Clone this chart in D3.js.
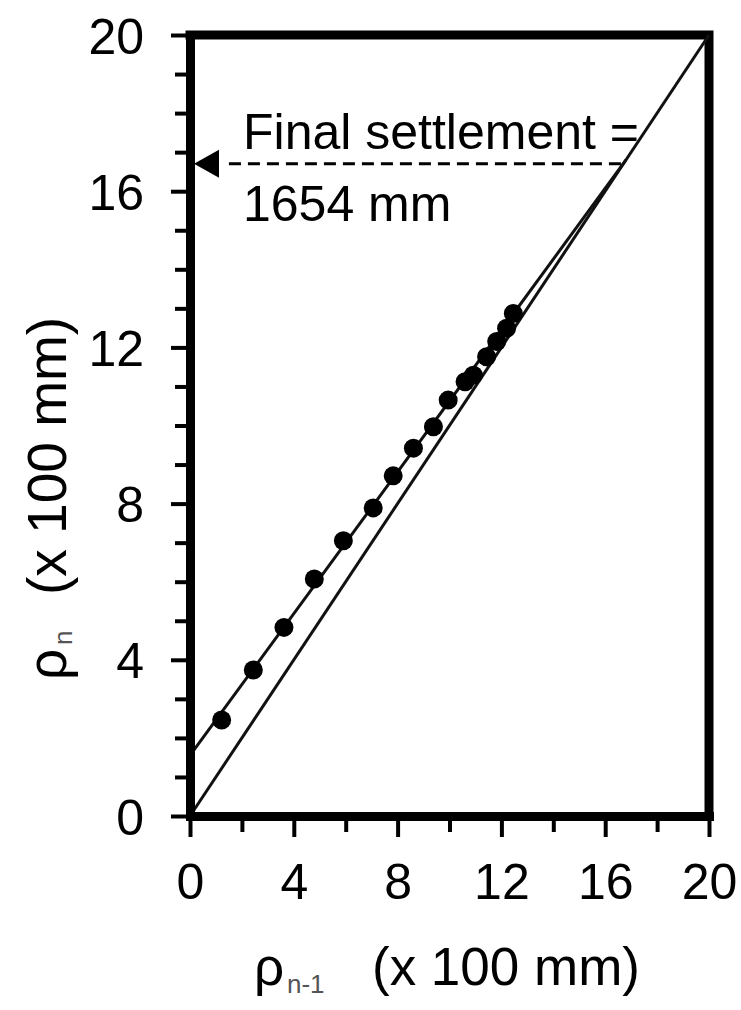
<!DOCTYPE html>
<html>
<head>
<meta charset="utf-8">
<script src="https://cdn.jsdelivr.net/npm/d3@7"></script>
<style>
  html, body { margin: 0; padding: 0; background: #fff; }
  svg { display: block; font-family: "Liberation Sans", Arial, sans-serif; }
</style>
</head>
<body>
<div id="chart"></div>
<script>
// settlement of step n-1 vs step n (x 100 mm)
const prevSettlement = [1.22, 2.44, 3.62, 4.79, 5.91, 7.06, 7.83, 8.61, 9.38, 9.95, 10.60, 10.92, 11.43, 11.82, 12.20, 12.46];
const currSettlement = [2.46, 3.74, 4.83, 6.07, 7.05, 7.89, 8.71, 9.42, 9.97, 10.65, 11.12, 11.29, 11.76, 12.15, 12.49, 12.87];

// fitted line and the 1:1 line
const fitLineX = [0, 16.8];
const fitLineY = [1.55, 16.8];
const equalityLineX = [0, 20];
const equalityLineY = [0, 20];

// asymptote / final settlement marker
const finalSettlementLevel = 16.7;
const finalSettlementStartX = 1.5;
const finalSettlementLabel = ["Final settlement =", "1654 mm"];

// ticks
const xTicks = [0, 4, 8, 12, 16, 20];
const xMinorTicks = [2, 6, 10, 14, 18];
const yTicks = [0, 4, 8, 12, 16, 20];
const yMinorTicks = [1, 2, 3, 5, 6, 7, 9, 10, 11, 13, 14, 15, 17, 18, 19];

const width = 741;
const height = 1010;
const margin = { left: 190, right: 32, top: 35, bottom: 194 };
const contentsWidth = width - margin.left - margin.right;
const contentsHeight = height - margin.top - margin.bottom;

const AXIS_WIDTH = 9;
const LABEL_SIZE = 50;
const TITLE_SIZE = 53;

const svg = d3.select("#chart").append("svg")
    .attr("width", width)
    .attr("height", height);

const x = d3.scaleLinear().domain([0, 20]).range([0, contentsWidth]);
const y = d3.scaleLinear().domain([0, 20]).range([contentsHeight, 0]);

const contentsG = svg.append("g")
    .attr("class", "chart-contents")
    .attr("transform", `translate(${margin.left}, ${margin.top})`);

//top + right border
contentsG.append("path")
    .attr("class", "frame")
    .attr("d", `M${x(0)},${y(20)}H${x(20)}V${y(0)}`)
    .attr("fill", "none")
    .attr("stroke", "#000")
    .attr("stroke-width", AXIS_WIDTH)
    .attr("stroke-linecap", "square");

//lines
const lineGen = d3.line().x(d => x(d[0])).y(d => y(d[1]));

contentsG.append("path")
    .attr("class", "equality-line")
    .datum(d3.zip(equalityLineX, equalityLineY))
    .attr("d", lineGen)
    .attr("fill", "none")
    .attr("stroke", "#111")
    .attr("stroke-width", 3);

contentsG.append("path")
    .attr("class", "fit-line")
    .datum(d3.zip(fitLineX, fitLineY))
    .attr("d", lineGen)
    .attr("fill", "none")
    .attr("stroke", "#111")
    .attr("stroke-width", 3);

//points
contentsG.selectAll("circle.point")
    .data(d3.zip(prevSettlement, currSettlement))
    .enter()
    .append("circle")
        .attr("class", "point")
        .attr("cx", d => x(d[0]))
        .attr("cy", d => y(d[1]))
        .attr("r", 9.5)
        .attr("fill", "#000");

//final settlement marker
const fsY = y(finalSettlementLevel);
contentsG.append("line")
    .attr("class", "final-settlement")
    .attr("x1", x(finalSettlementStartX))
    .attr("x2", x(fitLineX[1]))
    .attr("y1", fsY)
    .attr("y2", fsY)
    .attr("stroke", "#000")
    .attr("stroke-width", 3)
    .attr("stroke-dasharray", "12 7");

contentsG.append("path")
    .attr("class", "arrow-head")
    .attr("d", `M${x(0) + 4},${fsY}L${x(0) + 29},${fsY - 14}L${x(0) + 29},${fsY + 14}Z`)
    .attr("fill", "#000");

contentsG.append("text")
    .attr("x", x(0) + 53)
    .attr("y", fsY - 15)
    .attr("font-size", LABEL_SIZE)
    .text(finalSettlementLabel[0]);

contentsG.append("text")
    .attr("x", x(0) + 53)
    .attr("y", fsY + 57)
    .attr("font-size", LABEL_SIZE)
    .text(finalSettlementLabel[1]);

//axes
const yAxisG = contentsG.append("g").attr("class", "axis y-axis");
yAxisG.append("g").attr("class", "minor")
    .call(d3.axisLeft(y).tickValues(yMinorTicks).tickSize(15).tickSizeOuter(0).tickFormat(""));
yAxisG.append("g").attr("class", "major")
    .call(d3.axisLeft(y).tickValues(yTicks).tickSize(19).tickSizeOuter(0).tickPadding(27));

const xAxisG = contentsG.append("g").attr("class", "axis x-axis")
    .attr("transform", `translate(0, ${contentsHeight})`);
xAxisG.append("g").attr("class", "minor")
    .call(d3.axisBottom(x).tickValues(xMinorTicks).tickSize(16).tickSizeOuter(0).tickFormat(""));
xAxisG.append("g").attr("class", "major")
    .call(d3.axisBottom(x).tickValues(xTicks).tickSize(21).tickSizeOuter(0).tickPadding(26));

contentsG.selectAll(".axis path.domain")
    .attr("stroke", "#000")
    .attr("stroke-width", AXIS_WIDTH)
    .attr("stroke-linecap", "square");
contentsG.selectAll(".axis .tick line")
    .attr("stroke", "#000")
    .attr("stroke-width", 4);
contentsG.selectAll(".axis .tick text")
    .attr("font-family", "Liberation Sans, Arial, sans-serif")
    .attr("font-size", LABEL_SIZE)
    .attr("fill", "#000");
yAxisG.selectAll(".tick text").attr("dy", "0.36em");
xAxisG.selectAll(".tick text").attr("dy", "0.71em");

//axis titles
const xTitle = svg.append("text")
    .attr("class", "x-title")
    .attr("y", 985)
    .attr("font-size", TITLE_SIZE);
xTitle.append("tspan").attr("x", 254).text("ρ");
xTitle.append("tspan").attr("x", 287).attr("dy", 8).attr("font-size", 26).attr("fill", "#555").text("n-1");
xTitle.append("tspan").attr("x", 372).attr("dy", -8).text("(x 100 mm)");

const yTitle = svg.append("text")
    .attr("class", "y-title")
    .attr("transform", "translate(66, 0) rotate(-90)")
    .attr("font-size", TITLE_SIZE + 2);
yTitle.append("tspan").attr("x", -680).text("ρ");
yTitle.append("tspan").attr("x", -645).attr("dy", 6).attr("font-size", 26).attr("fill", "#555").text("n");
yTitle.append("tspan").attr("x", -595).attr("dy", -6).text("(x 100 mm)");
</script>
</body>
</html>
